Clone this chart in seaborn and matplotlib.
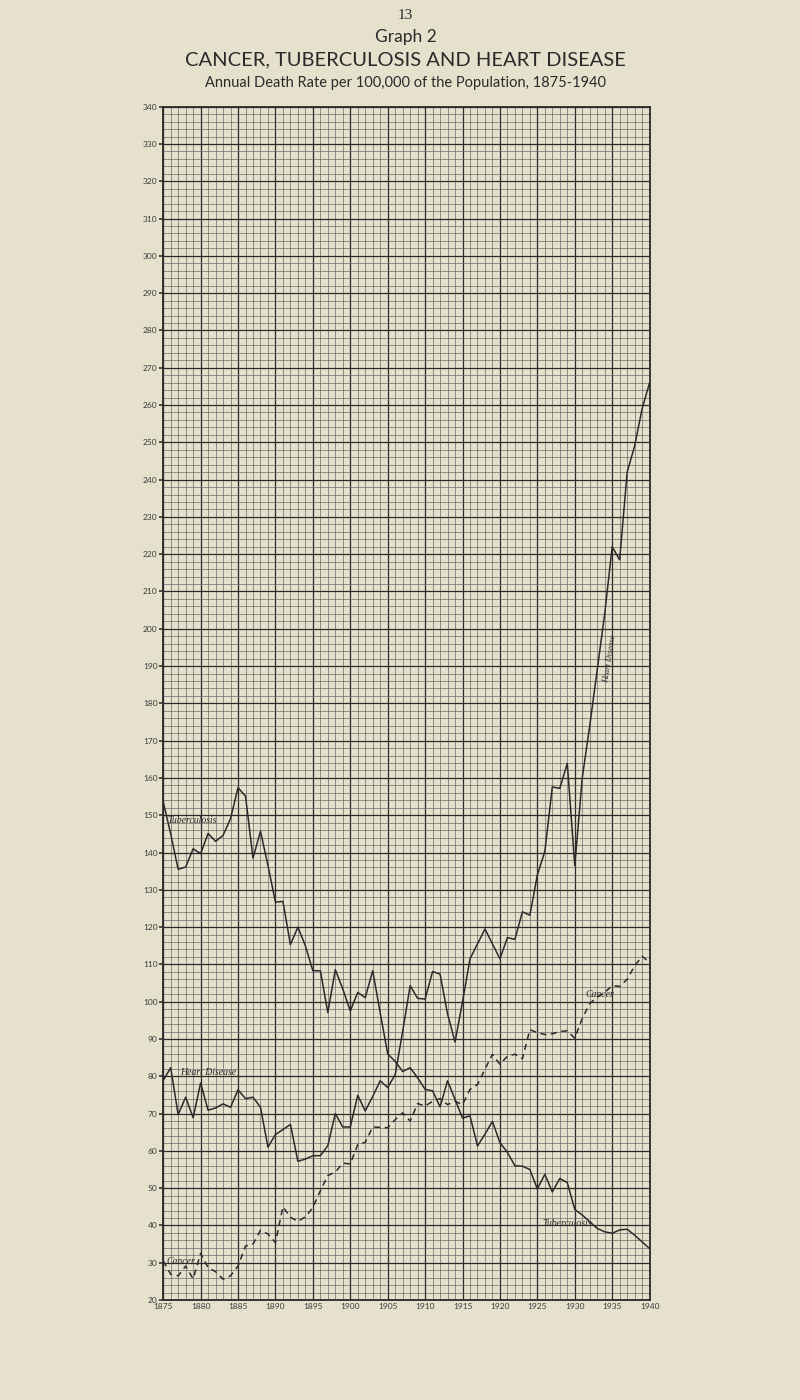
import matplotlib
matplotlib.use("Agg")
import pandas as pd
import matplotlib.pyplot as plt
from matplotlib.ticker import MultipleLocator
import seaborn as sns

# annual death rate per 100,000
years = list(range(1875, 1941))

tuberculosis = [
    153.6, 145.0, 135.5, 136.1, 141.0, 139.7, 145.1, 143.0, 144.6, 149.1,
    157.4, 155.1, 138.5, 145.7, 136.5, 126.7, 126.9, 115.3, 120.0, 115.0,
    108.3, 108.3, 97.1, 108.6, 103.4, 97.5, 102.5, 101.1, 108.3, 97.0,
    86.0, 84.0, 81.3, 82.3, 79.6, 76.5, 76.1, 71.8, 78.8, 73.8,
    68.8, 69.4, 61.3, 64.5, 67.9, 62.2, 59.6, 56.0, 55.9, 55.0,
    49.8, 53.7, 49.0, 52.6, 51.5, 44.3, 42.8, 41.0, 39.2, 38.3,
    37.9, 38.8, 39.0, 37.4, 35.6, 33.8,
]

heart_disease = [
    78.9, 82.3, 69.7, 74.4, 68.9, 78.2, 70.9, 71.5, 72.6, 71.7,
    76.4, 74.0, 74.4, 71.7, 61.0, 64.4, 65.7, 67.1, 57.2, 57.8,
    58.7, 58.7, 61.4, 70.0, 66.4, 66.4, 74.9, 70.7, 74.6, 78.8,
    77.0, 80.4, 92.0, 104.3, 100.9, 100.7, 108.1, 107.4, 96.7, 89.2,
    100.0, 111.5, 115.5, 119.5, 115.5, 111.5, 117.2, 116.7, 124.1, 123.2,
    134.0, 140.3, 157.6, 157.2, 163.9, 136.5, 160.0, 174.0, 189.0, 204.0,
    222.0, 218.5, 242.0, 249.0, 259.0, 266.0,
]

cancer = [
    30.5, 26.9, 26.5, 29.1, 25.7, 32.5, 28.7, 27.6, 25.6, 26.5,
    29.1, 34.5, 35.0, 38.7, 37.7, 35.4, 45.0, 42.2, 41.1, 42.3,
    44.8, 49.3, 53.4, 54.3, 56.7, 56.5, 61.7, 62.3, 66.4, 66.3,
    66.2, 68.4, 70.2, 68.0, 72.7, 72.0, 73.3, 74.0, 72.4, 73.3,
    72.4, 76.5, 77.8, 81.9, 85.9, 83.2, 85.4, 85.9, 84.7, 92.5,
    91.7, 91.2, 91.4, 92.0, 92.2, 90.2, 95.5, 99.5, 101.2, 102.5,
    104.3, 104.1, 106.0, 109.6, 112.2, 110.5,
]

x_ticks = list(range(1875, 1941, 5))
y_ticks = list(range(20, 341, 10))

PAPER = "#e6e1cd"
INK = "#2a2a2a"


def build_frame():
    """long-form table for seaborn"""
    df = pd.DataFrame({
        "Year": years,
        "Tuberculosis": tuberculosis,
        "Heart Disease": heart_disease,
        "Cancer": cancer,
    })
    return df.melt(id_vars="Year", var_name="Disease", value_name="Rate")


def plot_graph(df, save_path="out.png"):
    sns.set_theme(style="white")
    plt.rcParams["font.family"] = ["Lato", "DejaVu Sans"]

    fig = plt.figure(figsize=(8, 14), dpi=100, facecolor=PAPER)
    ax = fig.add_axes([0.204, 0.0714, 0.608, 0.8524], facecolor=PAPER)

    sns.lineplot(
        data=df, x="Year", y="Rate",
        hue="Disease", style="Disease",
        palette={"Tuberculosis": INK, "Heart Disease": INK, "Cancer": INK},
        dashes={"Tuberculosis": "", "Heart Disease": "", "Cancer": (4, 3)},
        linewidth=1.1, legend=False, ax=ax, zorder=3,
    )

    ax.set_xlim(1875, 1940)
    ax.set_ylim(20, 340)
    ax.set_xticks(x_ticks)
    ax.set_yticks(y_ticks)
    ax.xaxis.set_minor_locator(MultipleLocator(1))
    ax.yaxis.set_minor_locator(MultipleLocator(2))
    ax.set_axisbelow(True)
    ax.grid(which="major", color=INK, linewidth=0.9)
    ax.grid(which="minor", color="#5e5e5e", linewidth=0.45)
    for side in ax.spines.values():
        side.set_color(INK)
        side.set_linewidth(1.3)

    ax.tick_params(axis="x", which="both", length=0, pad=2,
                   labelsize=6, colors="#3a3a3a")
    ax.tick_params(axis="y", which="major", length=3, pad=1,
                   labelsize=6, colors="#3a3a3a", left=True)
    ax.tick_params(axis="y", which="minor", length=0)
    ax.set_xlabel("")
    ax.set_ylabel("")

    # hand lettered labels on the chart
    lab = dict(family=["Liberation Serif", "DejaVu Serif"], style="italic",
               color=INK, va="center", zorder=4)
    ax.text(1875.6, 148.7, "Tuberculosis", fontsize=7, **lab)
    ax.text(1877.3, 81.0, "Heart Disease", fontsize=7, **lab)
    ax.text(1875.4, 30.4, "Cancer", fontsize=7, **lab)
    ax.text(1931.4, 102.0, "Cancer", fontsize=7, **lab)
    ax.text(1925.7, 40.6, "Tuberculosis", fontsize=7, **lab)
    ax.text(1934.7, 192.0, "Heart Disease", rotation=81, ha="center",
            fontsize=6, **lab)

    cx = 0.507
    fig.text(cx, 0.989, "13", ha="center", va="center",
             family=["Liberation Serif", "DejaVu Serif"], fontsize=11, color=INK)
    fig.text(cx, 0.9735, "Graph 2", ha="center", va="center",
             fontsize=12.5, color=INK)
    fig.text(cx, 0.957, "CANCER, TUBERCULOSIS AND HEART DISEASE",
             ha="center", va="center", fontsize=14.5, color=INK)
    fig.text(cx, 0.9405,
             "Annual Death Rate per 100,000 of the Population, 1875-1940",
             ha="center", va="center", fontsize=10.5, color=INK)

    fig.savefig(save_path, dpi=100, facecolor=PAPER)
    plt.close(fig)


if __name__ == "__main__":
    plot_graph(build_frame())
